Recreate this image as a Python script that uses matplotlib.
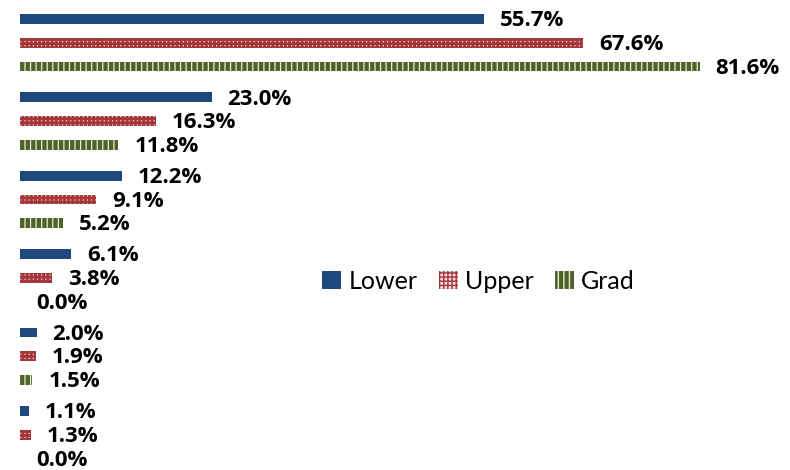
import matplotlib
matplotlib.use("Agg")
import matplotlib.pyplot as plt
import numpy as np

plt.rcParams['font.family'] = ['Open Sans', 'DejaVu Sans']

series_names = ["Lower", "Upper", "Grad"]
lower = [55.7, 23.0, 12.2, 6.1, 2.0, 1.1]
upper = [67.6, 16.3, 9.1, 3.8, 1.9, 1.3]
grad = [81.6, 11.8, 5.2, 0.0, 1.5, 0.0]
values = [lower, upper, grad]

# (face, hatch colour, hatch, hatch linewidth)
styles = [
    ("#1F497D", "#1F497D", None, 1.0),
    ("#F2DCDB", "#A5373A", "++++", 2.0),
    ("#4F6228", "#E6EED5", "|||", 0.9),
]

fig = plt.figure(figsize=(7.9, 4.7), dpi=100)
ax = fig.add_axes([0, 0, 1, 1])

px_per_unit = 8.33
ax.set_xlim(-20 / px_per_unit, (790 - 20) / px_per_unit)
unit = 23.75
ax.set_ylim(470 / unit, 0)

period = 3.3
bar_h = 0.42
handles = []
for s, (name, vals) in enumerate(zip(series_names, values)):
    face, hcol, hatch, hlw = styles[s]
    ys = [0.8 + g * period + s for g in range(len(vals))]
    with plt.rc_context({'hatch.linewidth': hlw, 'hatch.color': hcol}):
        bars = ax.barh(ys, vals, height=bar_h, color=face,
                       edgecolor=hcol, hatch=hatch, linewidth=0, label=name)
        for p in bars.patches:
            if hasattr(p, "set_hatch_linewidth"):
                p.set_hatch_linewidth(hlw)
    handles.append(bars)
    for y, v in zip(ys, vals):
        ax.text(v + 16 / px_per_unit, y + 0.07, f"{v:.1f}%", ha="left", va="center",
                fontsize=16, fontweight="bold", color="black")

ax.axis("off")
leg = fig.legend(handles=handles, labels=series_names, loc="center",
                 bbox_to_anchor=(0.606, 0.402), ncol=3, frameon=False,
                 prop={'family': ['Lato', 'DejaVu Sans'], 'size': 18},
                 handlelength=0.75, handleheight=0.75,
                 handletextpad=0.3, columnspacing=0.85)

fig.savefig("out.png", dpi=100)
